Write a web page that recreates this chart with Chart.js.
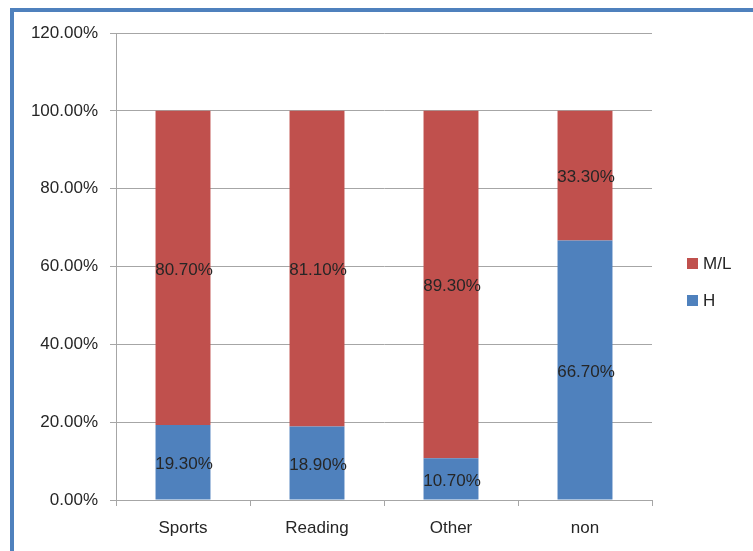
<!DOCTYPE html>
<html>
<head>
<meta charset="utf-8">
<script src="https://cdn.jsdelivr.net/npm/chart.js@4/dist/chart.umd.min.js"></script>
<style>
  html, body { margin: 0; padding: 0; background: #fff; }
  #wrap { width: 753px; height: 551px; position: relative; }
</style>
</head>
<body>
<div id="wrap"><canvas id="chart"></canvas></div>
<script>
// ---- data ----
const categories = ['Sports', 'Reading', 'Other', 'non'];
const hValues = [19.3, 18.9, 10.7, 66.7];
const mlValues = [80.7, 81.1, 89.3, 33.3];
const yTicks = [0, 20, 40, 60, 80, 100, 120];

(function () {
  const FONT = '"Liberation Sans", Arial, sans-serif';
  const BLUE = '#4f81bd';
  const RED = '#c0504d';
  const GRID = '#a6a6a6';
  const TEXT = '#262626';

  // ---- outer frame (clipped on right/bottom like the original) ----
  const framePlugin = {
    id: 'frame',
    beforeDraw(chart) {
      const c = chart.ctx;
      c.save();
      c.fillStyle = '#fff';
      c.fillRect(0, 0, chart.width, chart.height);
      c.fillStyle = BLUE;
      c.fillRect(10, 8, chart.width - 10, 4);
      c.fillRect(10, 8, 4, chart.height - 8);
      c.restore();
    }
  };

  // ---- values centred in each segment ----
  const labelPlugin = {
    id: 'segLabels',
    afterDatasetsDraw(chart) {
      const c = chart.ctx;
      c.save();
      c.font = '17px ' + FONT;
      c.fillStyle = TEXT;
      c.textAlign = 'center';
      c.textBaseline = 'middle';
      chart.data.datasets.forEach((ds, i) => {
        chart.getDatasetMeta(i).data.forEach((bar, j) => {
          const y = (bar.y + bar.base) / 2 + 2;
          c.fillText(ds.data[j].toFixed(2) + '%', bar.x + 1, y);
        });
      });
      c.restore();
    }
  };

  // ---- legend on the right, top series first ----
  const legendPlugin = {
    id: 'sideLegend',
    afterDraw(chart) {
      const c = chart.ctx;
      const items = chart.data.datasets.slice().reverse();
      c.save();
      c.font = '17px ' + FONT;
      c.textBaseline = 'middle';
      items.forEach((ds, i) => {
        const cy = 263 + i * 37;
        c.fillStyle = ds.backgroundColor;
        c.fillRect(687, cy - 5, 11, 11);
        c.fillStyle = TEXT;
        c.fillText(ds.label, 703, cy + 1);
      });
      c.restore();
    }
  };

  new Chart(document.getElementById('chart'), {
    type: 'bar',
    data: {
      labels: categories,
      datasets: [
        { label: 'H', data: hValues, backgroundColor: BLUE },
        { label: 'M/L', data: mlValues, backgroundColor: RED }
      ]
    },
    options: {
      responsive: true,
      maintainAspectRatio: false,
      animation: false,
      devicePixelRatio: 1,
      layout: { padding: { left: 0, top: 33, right: 101, bottom: 0 } },
      datasets: { bar: { barPercentage: 0.41, categoryPercentage: 1 } },
      plugins: { legend: { display: false }, tooltip: { enabled: false } },
      scales: {
        x: {
          stacked: true,
          afterFit: s => { s.height = 51; },
          grid: { display: true, drawOnChartArea: false, color: GRID, tickLength: 6, offset: true },
          border: { color: GRID },
          ticks: { color: TEXT, font: { family: FONT, size: 17 }, padding: 12 }
        },
        y: {
          stacked: true,
          min: 0,
          max: 120,
          afterFit: s => { s.width = 116; },
          afterBuildTicks: s => { s.ticks = yTicks.map(v => ({ value: v })); },
          grid: { color: GRID, tickLength: 6 },
          border: { color: GRID },
          ticks: {
            color: TEXT,
            font: { family: FONT, size: 17 },
            padding: 12,
            callback: v => v.toFixed(2) + '%'
          }
        }
      }
    },
    plugins: [framePlugin, labelPlugin, legendPlugin]
  });
})();
</script>
</body>
</html>
